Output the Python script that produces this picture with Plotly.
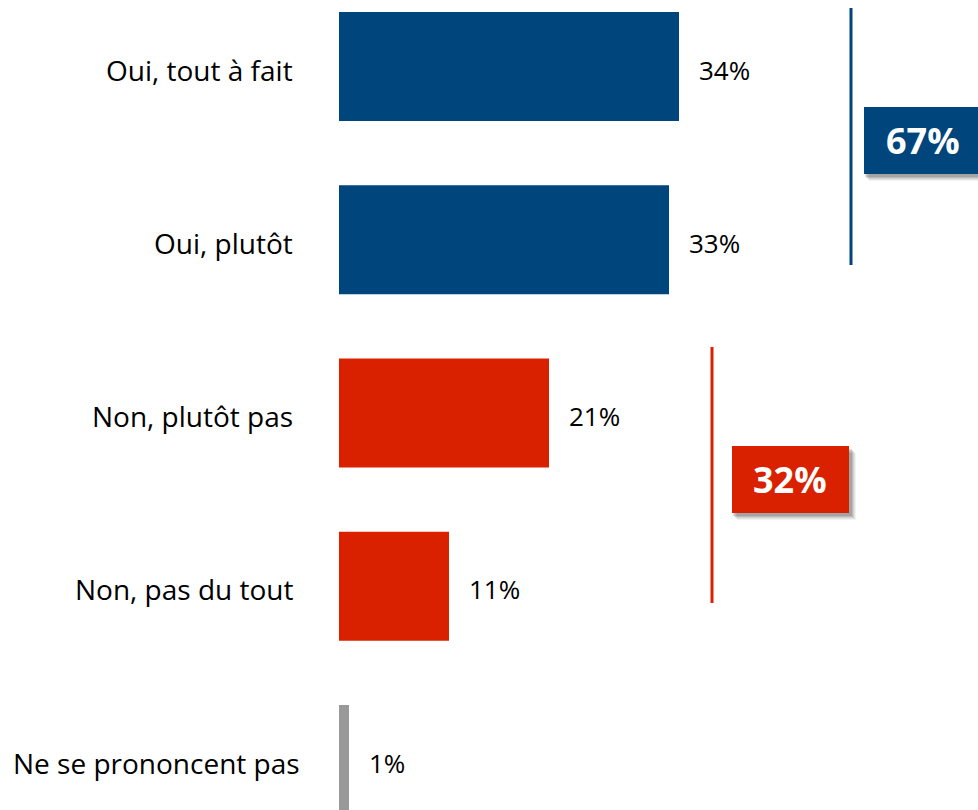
import plotly.graph_objects as go

# Survey answers and shares (%)
categories = ["Oui, tout à fait", "Oui, plutôt", "Non, plutôt pas", "Non, pas du tout", "Ne se prononcent pas"]
values = [34, 33, 21, 11, 1]
bar_colors = ["#00457C", "#00457C", "#D92100", "#D92100", "#999999"]

# Grouped totals shown beside the brackets
groups = [
    {"members": [0, 1], "color": "#00457C"},
    {"members": [2, 3], "color": "#D92100"},
]

W, H = 978, 810
FONT = "Open Sans"

# Pixel layout helpers: the plot fills the whole page (no margins)
X0_PX, PX_PER_UNIT = 339, 10.0
Y0_PX, ROW_PX = 66.5, 173.25
x_range = [(0 - X0_PX) / PX_PER_UNIT, (W - X0_PX) / PX_PER_UNIT]
y_range = [(H - Y0_PX) / ROW_PX, (0 - Y0_PX) / ROW_PX]


def px(xp):
    return xp / W


def py(yp):
    return 1 - yp / H


idx = list(range(len(categories)))

fig = go.Figure(
    go.Bar(
        x=values,
        y=idx,
        orientation="h",
        width=0.63,
        marker=dict(color=bar_colors, line=dict(width=0)),
        hoverinfo="skip",
    )
)

annotations = []
label_right_px = [295, 295, 295, 295, 302]
for i, (cat, v) in enumerate(zip(categories, values)):
    annotations.append(dict(
        x=px(label_right_px[i]), xref="paper", y=i, yref="y", yshift=-3,
        text=cat, showarrow=False, xanchor="right", yanchor="middle",
        font=dict(family=FONT, size=28, color="#000000"),
    ))
    annotations.append(dict(
        x=v, xref="x", y=i, yref="y", xshift=18, yshift=-3,
        text=f"{v}%", showarrow=False, xanchor="left", yanchor="middle",
        font=dict(family=FONT, size=26, color="#000000"),
    ))

shapes = []
# bracket lines and total boxes (pixel positions)
bracket_specs = [
    dict(line_x=851, y0=8, y1=265, box=(864, 107, 995, 174), text_cx=923),
    dict(line_x=712, y0=347, y1=603, box=(732, 446, 849, 513), text_cx=790),
]
for g, spec in zip(groups, bracket_specs):
    total = sum(values[m] for m in g["members"])
    shapes.append(dict(
        type="line", xref="paper", yref="paper",
        x0=px(spec["line_x"]), x1=px(spec["line_x"]),
        y0=py(spec["y0"]), y1=py(spec["y1"]),
        line=dict(color=g["color"], width=3),
    ))
    bx0, by0, bx1, by1 = spec["box"]
    # soft drop shadow
    for k, a in [(7, 0.05), (6, 0.06), (5, 0.08), (4, 0.10), (3, 0.12)]:
        shapes.append(dict(
            type="rect", xref="paper", yref="paper",
            x0=px(bx0 + k - 2), x1=px(bx1 + k), y0=py(by0 + k), y1=py(by1 + k),
            fillcolor=f"rgba(0,0,0,{a})", line=dict(width=0), layer="above",
        ))
    shapes.append(dict(
        type="rect", xref="paper", yref="paper",
        x0=px(bx0), x1=px(bx1), y0=py(by0), y1=py(by1),
        fillcolor=g["color"], line=dict(width=0), layer="above",
    ))
    annotations.append(dict(
        x=px(spec["text_cx"]), xref="paper", y=py((by0 + by1) / 2), yref="paper",
        text=f"<b>{total}%</b>", showarrow=False, xanchor="center", yanchor="middle",
        font=dict(family=FONT, size=36, color="#FFFFFF"),
    ))

fig.update_layout(
    width=W, height=H,
    margin=dict(l=0, r=0, t=0, b=0),
    paper_bgcolor="white", plot_bgcolor="white",
    showlegend=False,
    xaxis=dict(range=x_range, visible=False, fixedrange=True),
    yaxis=dict(range=y_range, visible=False, fixedrange=True),
    annotations=annotations,
    shapes=shapes,
)

fig.write_html("out.html")
